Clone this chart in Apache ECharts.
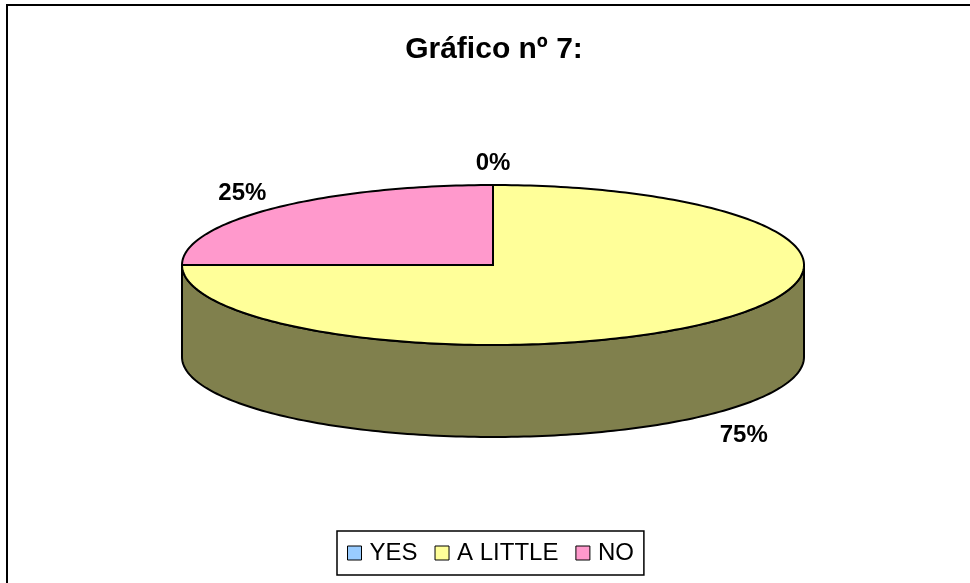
<!DOCTYPE html>
<html>
<head>
<meta charset="utf-8">
<script src="https://cdn.jsdelivr.net/npm/echarts@6/dist/echarts.min.js"></script>
<style>
  html, body { margin: 0; padding: 0; background: #fff; }
  #chart { width: 970px; height: 583px; }
</style>
</head>
<body>
<div id="chart"></div>
<script>
const categories = ["YES", "A LITTLE", "NO"];
const percentValues = [0, 75, 25];
const sliceColors = ["#99CCFF", "#FFFF99", "#FF99CC"];
const sideColors = ["#4D6680", "#80804D", "#804D66"];

const chart = echarts.init(document.getElementById("chart"));

// 3D pie geometry (pixels)
const PIE = { cx: 493, cy: 265, rx: 311, ry: 80, depth: 92 };
const total = percentValues.reduce((a, b) => a + b, 0);

function pt(t, dy) {
  return [PIE.cx + PIE.rx * Math.cos(t), PIE.cy + PIE.ry * Math.sin(t) + (dy || 0)];
}

function arc(t1, t2, dy) {
  const n = Math.max(2, Math.ceil(Math.abs(t2 - t1) / 0.02));
  const out = [];
  for (let i = 0; i <= n; i++) out.push(pt(t1 + (t2 - t1) * i / n, dy));
  return out;
}

function sliceAngles(i) {
  let before = 0;
  for (let j = 0; j < i; j++) before += percentValues[j];
  const start = -Math.PI / 2 + before / total * 2 * Math.PI;
  return [start, start + percentValues[i] / total * 2 * Math.PI];
}

function renderSlice(params, api) {
  const i = params.seriesIndex;
  const val = api.value(0);
  const [a1, a2] = sliceAngles(i);
  const children = [];

  // front wall (visible where the rim faces the viewer)
  const lo = Math.max(a1, 0), hi = Math.min(a2, Math.PI);
  if (hi > lo) {
    children.push({
      type: "polygon",
      z2: 1,
      shape: { points: arc(lo, hi, 0).concat(arc(hi, lo, PIE.depth)) },
      style: { fill: sideColors[i], stroke: "#000", lineWidth: 2 },
    });
  }

  // top face
  if (a2 > a1) {
    children.push({
      type: "polygon",
      z2: 5,
      shape: { points: [[PIE.cx, PIE.cy]].concat(arc(a1, a2, 0)) },
      style: { fill: sliceColors[i], stroke: "#000", lineWidth: 2, lineJoin: "miter" },
    });
  }

  // percentage label
  const mid = (a1 + a2) / 2;
  const lx = PIE.cx + PIE.rx * 1.14 * Math.cos(mid);
  let ly = PIE.cy + PIE.ry * 1.27 * Math.sin(mid);
  if (Math.sin(mid) > 0) ly += PIE.depth + 7;
  children.push({
    type: "text",
    z2: 10,
    x: lx,
    y: ly,
    style: {
      text: val + "%",
      fill: "#000",
      font: "bold 24px Arial, 'Liberation Sans', sans-serif",
      align: "center",
      verticalAlign: "middle",
    },
  });

  return { type: "group", children };
}

chart.setOption({
  backgroundColor: "#fff",
  animation: false,
  color: sliceColors,
  title: {
    text: "Gráfico nº 7:",
    left: 489,
    textAlign: "center",
    top: 30,
    textStyle: { fontFamily: "Arial, 'Liberation Sans', sans-serif", fontSize: 30, fontWeight: "bold", color: "#000" },
  },
  legend: {
    data: categories,
    left: 337,
    top: 531,
    icon: "rect",
    itemWidth: 14,
    itemHeight: 14,
    itemGap: 17,
    padding: [10, 10, 10, 10],
    borderColor: "#000",
    borderWidth: 1.5,
    selectedMode: false,
    itemStyle: { borderColor: "#000", borderWidth: 1 },
    textStyle: { fontFamily: "Arial, 'Liberation Sans', sans-serif", fontSize: 24, color: "#000", padding: [0, 0, 0, 3] },
  },
  graphic: [{
    type: "rect",
    shape: { x: 7, y: 5, width: 1000, height: 1000 },
    style: { fill: "none", stroke: "#000", lineWidth: 2 },
    silent: true,
  }],
  series: categories.map((name, i) => ({
    name,
    type: "custom",
    coordinateSystem: "none",
    itemStyle: { color: sliceColors[i] },
    data: [[percentValues[i]]],
    renderItem: renderSlice,
  })),
});
</script>
</body>
</html>
